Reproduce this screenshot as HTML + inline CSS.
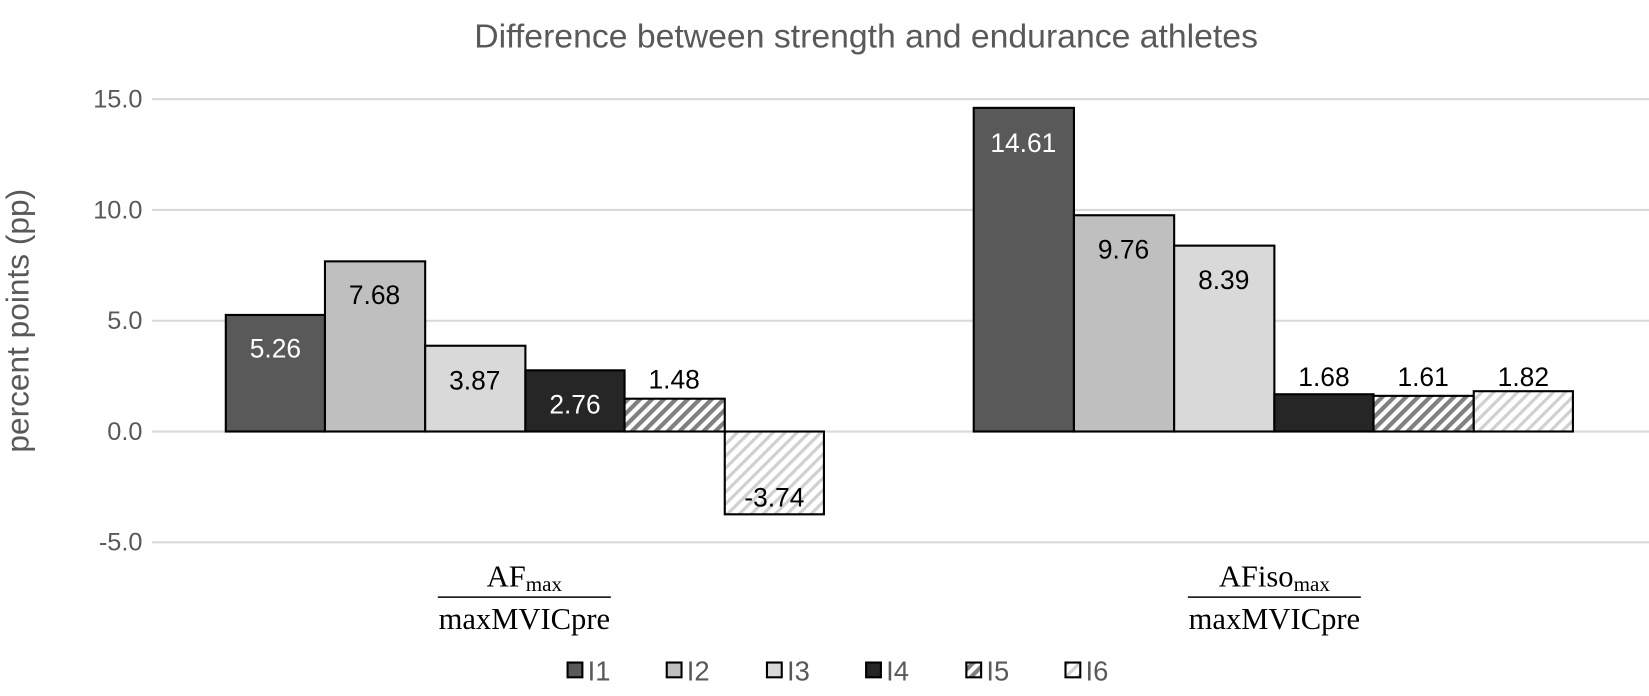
<!DOCTYPE html>
<html><head><meta charset="utf-8"><style>
body{margin:0;background:#fff;}
</style></head><body>
<svg width="1649" height="691" xmlns="http://www.w3.org/2000/svg" font-family="Liberation Sans, sans-serif">
<defs>
<pattern id="p5" patternUnits="userSpaceOnUse" width="8" height="8" patternTransform="rotate(45)">
<rect width="8" height="8" fill="#fff"/><rect width="4" height="8" fill="#808080"/></pattern>
<pattern id="p6" patternUnits="userSpaceOnUse" width="8" height="8" patternTransform="rotate(45)">
<rect width="8" height="8" fill="#fff"/><rect width="3" height="8" fill="#d0d0d0"/></pattern>
</defs>
<g transform="translate(-1,-1) scale(1.0549)">
<text x="822" y="46" font-size="32" fill="#595959" text-anchor="middle">Difference between strength and endurance athletes</text>
<g stroke="#d9d9d9" stroke-width="2">
<line x1="145" x2="1565" y1="95" y2="95"/><line x1="145" x2="1565" y1="200" y2="200"/>
<line x1="145" x2="1565" y1="305" y2="305"/><line x1="145" x2="1565" y1="410" y2="410"/>
<line x1="145" x2="1565" y1="515" y2="515"/></g>
<g font-size="24" fill="#595959" text-anchor="end">
<text x="136" y="103">15.0</text><text x="136" y="208">10.0</text><text x="136" y="313">5.0</text>
<text x="136" y="418">0.0</text><text x="136" y="523">-5.0</text></g>
<text transform="translate(28,305) rotate(-90)" font-size="30" fill="#595959" text-anchor="middle">percent points (pp)</text>
<g stroke="#000" stroke-width="2">
<rect x="215" y="299.5" width="94" height="110.5" fill="#595959"/>
<rect x="309" y="248.7" width="95" height="161.3" fill="#bfbfbf"/>
<rect x="404" y="328.7" width="95" height="81.3" fill="#d9d9d9"/>
<rect x="499" y="352" width="94" height="58" fill="#262626"/>
<rect x="593" y="378.9" width="95" height="31.1" fill="url(#p5)"/>
<rect x="688" y="410" width="94" height="78.5" fill="url(#p6)"/>
<rect x="924" y="103.2" width="95" height="306.8" fill="#595959"/>
<rect x="1019" y="205" width="95" height="205" fill="#bfbfbf"/>
<rect x="1114" y="233.8" width="95" height="176.2" fill="#d9d9d9"/>
<rect x="1209" y="374.7" width="94" height="35.3" fill="#262626"/>
<rect x="1303" y="376.2" width="95" height="33.8" fill="url(#p5)"/>
<rect x="1398" y="371.8" width="94" height="38.2" fill="url(#p6)"/>
</g>
<g font-size="25" text-anchor="middle">
<text x="262" y="340" fill="#fff">5.26</text>
<text x="356" y="289" fill="#000">7.68</text>
<text x="451" y="370" fill="#000">3.87</text>
<text x="546" y="393" fill="#fff">2.76</text>
<text x="640" y="369" fill="#000">1.48</text>
<text x="735" y="481" fill="#000">-3.74</text>
<text x="971" y="145" fill="#fff">14.61</text>
<text x="1066" y="246" fill="#000">9.76</text>
<text x="1161" y="275" fill="#000">8.39</text>
<text x="1256" y="367" fill="#000">1.68</text>
<text x="1350" y="367" fill="#000">1.61</text>
<text x="1445" y="367" fill="#000">1.82</text>
</g>
<g style="font-family:'Liberation Serif',serif" font-size="29" fill="#000" text-anchor="middle">
<text x="498" y="557">AF<tspan font-size="20" dy="4">max</tspan></text>
<line x1="416" x2="580" y1="567" y2="567" stroke="#000" stroke-width="1.5"/>
<text x="498" y="597">maxMVICpre</text>
<text x="1209" y="557">AFiso<tspan font-size="20" dy="4">max</tspan></text>
<line x1="1127" x2="1291" y1="567" y2="567" stroke="#000" stroke-width="1.5"/>
<text x="1209" y="597">maxMVICpre</text>
</g>
<g stroke="#000" stroke-width="2">
<rect x="539" y="629" width="14" height="14" fill="#595959"/>
<rect x="633" y="629" width="14" height="14" fill="#bfbfbf"/>
<rect x="728" y="629" width="14" height="14" fill="#d9d9d9"/>
<rect x="822" y="629" width="14" height="14" fill="#262626"/>
<rect x="917" y="629" width="14" height="14" fill="url(#p5)"/>
<rect x="1011" y="629" width="14" height="14" fill="url(#p6)"/>
</g>
<g font-size="26" fill="#595959">
<text x="558" y="646">I1</text><text x="652" y="646">I2</text><text x="747" y="646">I3</text>
<text x="841" y="646">I4</text><text x="936" y="646">I5</text><text x="1030" y="646">I6</text>
</g>
</g>
</svg>
</body></html>
